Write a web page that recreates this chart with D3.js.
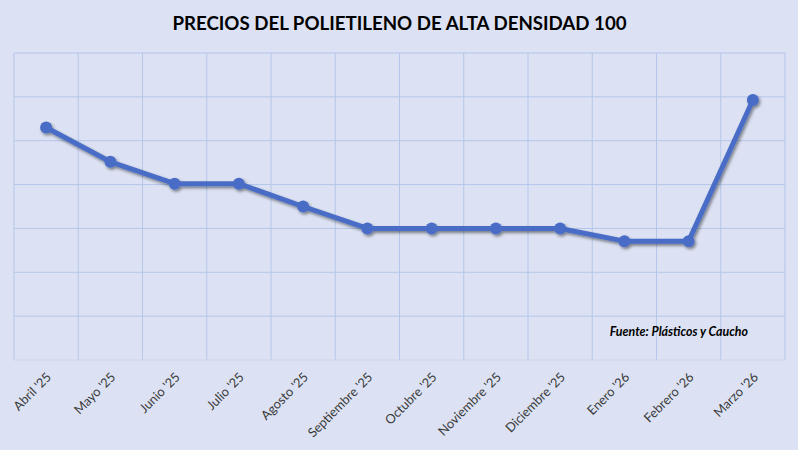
<!DOCTYPE html>
<html><head><meta charset="utf-8">
<script src="https://cdn.jsdelivr.net/npm/d3@7"></script>
<style>
html,body{margin:0;padding:0;background:#dce2f3;}
svg{display:block;}
</style></head>
<body>
<svg id="chart" width="798" height="450"></svg>
<script>
const categories = ["Abril '25","Mayo '25","Junio '25","Julio '25","Agosto '25","Septiembre '25","Octubre '25","Noviembre '25","Diciembre '25","Enero '26","Febrero '26","Marzo '26"];
const values = [5.3, 4.52, 4.02, 4.02, 3.5, 3.0, 3.0, 3.0, 3.0, 2.71, 2.71, 5.93];
const yTicks = [0,1,2,3,4,5,6,7];
const title = "PRECIOS DEL POLIETILENO DE ALTA DENSIDAD 100";
const source = "Fuente: Plásticos y Caucho";

const svg = d3.select("#chart");
const W = 798, H = 450;
const m = {left:14, right:13, top:53, bottom:90};
const x = d3.scaleBand().domain(categories).range([m.left, W - m.right]);
const y = d3.scaleLinear().domain([0,7]).range([H - m.bottom, m.top]);

svg.append("rect").attr("width",W).attr("height",H).attr("fill","#dce2f3");

const defs = svg.append("defs");
const f = defs.append("filter").attr("id","sh").attr("x","-50%").attr("y","-50%").attr("width","200%").attr("height","200%");
f.append("feDropShadow").attr("dx",1.5).attr("dy",2).attr("stdDeviation",1.6).attr("flood-color","#000").attr("flood-opacity",0.45);

// horizontal gridlines
svg.append("g").selectAll("line").data(yTicks.filter(d=>d>0)).join("line")
  .attr("x1",m.left).attr("x2",W-m.right)
  .attr("y1",d=>y(d)).attr("y2",d=>y(d))
  .attr("stroke","#b4c6ea").attr("stroke-width",1);

// vertical gridlines
const vb = categories.map(c=>x(c)).concat([x(categories[categories.length-1])+x.bandwidth()]);
svg.append("g").selectAll("line").data(vb).join("line")
  .attr("x1",d=>d).attr("x2",d=>d)
  .attr("y1",y(7)).attr("y2",y(0))
  .attr("stroke","#b4c6ea").attr("stroke-width",1);

// x axis line
svg.append("line").attr("x1",m.left).attr("x2",W-m.right).attr("y1",y(0)).attr("y2",y(0))
  .attr("stroke","#cfd3e0").attr("stroke-width",1.2);

// x labels
svg.append("g").selectAll("text").data(categories).join("text")
  .attr("transform",d=>`translate(${x(d)+x.bandwidth()/2+6},${y(0)+18}) rotate(-45)`)
  .attr("text-anchor","end")
  .attr("font-family","Lato, 'Open Sans', sans-serif")
  .attr("font-size",12.8)
  .attr("fill","#3a3a3a")
  .text(d=>d);

// line
const cx = d=>x(d)+x.bandwidth()/2;
const data = categories.map((c,i)=>({c, v:values[i]}));
const g = svg.append("g").attr("filter","url(#sh)");
g.append("path").datum(data)
  .attr("d", d3.line().x(d=>cx(d.c)).y(d=>y(d.v)))
  .attr("fill","none").attr("stroke","#4a6cc6").attr("stroke-width",5).attr("stroke-linejoin","round");
g.selectAll("circle").data(data).join("circle")
  .attr("cx",d=>cx(d.c)).attr("cy",d=>y(d.v)).attr("r",6)
  .attr("fill","#4a6cc6");

// title
svg.append("text").attr("x",(m.left + W - m.right)/2).attr("y",30)
  .attr("text-anchor","middle")
  .attr("font-family","Lato, 'Open Sans', sans-serif")
  .attr("font-weight","bold").attr("font-size",18.7).attr("fill","#000")
  .text(title);

// source
svg.append("text").attr("x",748).attr("y",336)
  .attr("text-anchor","end")
  .attr("font-family","Lato, 'Open Sans', sans-serif")
  .attr("font-weight","bold").attr("font-style","italic").attr("font-size",12.4).attr("fill","#000")
  .text(source);
</script>
</body></html>
